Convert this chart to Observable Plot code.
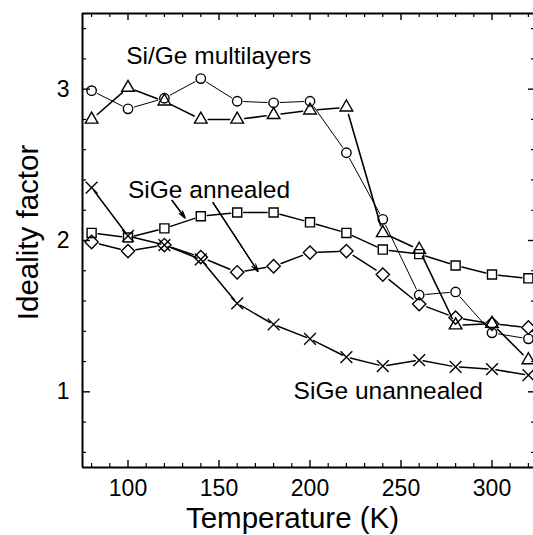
<!DOCTYPE html>
<html>
<head>
<meta charset="utf-8">
<script src="https://cdn.jsdelivr.net/npm/d3@7"></script>
<script src="https://cdn.jsdelivr.net/npm/@observablehq/plot@0.6"></script>
<style>
  html, body { margin: 0; padding: 0; background: #fff; }
  svg { display: block; }
</style>
</head>
<body>
<div id="chart"></div>
<script>
// ---- data ----
const temps = [80, 100, 120, 140, 160, 180, 200, 220, 240, 260, 280, 300, 320];
const multilayerCircle   = [2.99, 2.87, 2.94, 3.07, 2.92, 2.91, 2.92, 2.58, 2.14, 1.64, 1.66, 1.39, 1.35];
const multilayerTriangle = [2.80, 3.01, 2.92, 2.80, 2.80, 2.83, 2.86, 2.88, 2.05, 1.94, 1.44, 1.45, 1.21];
const annealedSquare     = [2.05, 2.02, 2.08, 2.16, 2.185, 2.185, 2.12, 2.05, 1.94, 1.91, 1.835, 1.775, 1.75];
const annealedDiamond    = [1.99, 1.93, 1.97, 1.89, 1.79, 1.83, 1.92, 1.93, 1.775, 1.58, 1.49, 1.45, 1.425];
const unannealedCross    = [2.35, 2.03, 1.97, 1.875, 1.585, 1.445, 1.35, 1.23, 1.17, 1.21, 1.165, 1.15, 1.11];

const xMajorTicks = [100, 150, 200, 250, 300];
const xMinorTicks = [80, 90, 110, 120, 130, 140, 160, 170, 180, 190, 210, 220, 230, 240, 260, 270, 280, 290, 310, 320];
const yMajorTicks = [1, 2, 3];
const yMinorTicks = [0.6, 0.8, 1.2, 1.4, 1.6, 1.8, 2.2, 2.4, 2.6, 2.8, 3.2, 3.4];

const labelTexts = ["Si/Ge multilayers", "SiGe annealed", "SiGe unannealed"];
const labelX = [99, 100, 191];
const labelY = [3.167, 2.284, 0.952];

const arrowX1 = [124.2, 146.7];
const arrowY1 = [2.265, 2.25];
const arrowX2 = [131.3, 171.4];
const arrowY2 = [2.15, 1.795];

const xTitle = "Temperature (K)";
const yTitle = "Ideality factor";

// ---- build tables ----
const pts = vals => temps.map((t, i) => ({x: t, y: vals[i]}));
const segs = vals => temps.slice(1).map((t, i) => ({x1: temps[i], y1: vals[i], x2: t, y2: vals[i + 1]}));
const labels = labelTexts.map((t, i) => ({text: t, x: labelX[i], y: labelY[i]}));
const arrows = arrowX1.map((_, i) => ({x1: arrowX1[i], y1: arrowY1[i], x2: arrowX2[i], y2: arrowY2[i]}));

const series = [
  {vals: multilayerCircle,   symbol: "circle",   r: 4.7, inset: 6.5, lw: 1.0},
  {vals: multilayerTriangle, symbol: "triangle", r: 4.7, inset: 7.5, lw: 1.6},
  {vals: annealedSquare,     symbol: "square",   r: 5.1, inset: 6.5, lw: 1.5},
  {vals: annealedDiamond,    symbol: "diamond2", r: 6.0, inset: 8,   lw: 1.5},
  {vals: unannealedCross,    symbol: "times",    r: 5.4, inset: 4,   lw: 1.5}
];

const W = 533, H = 535, mL = 82, mR = 0, mT = 13, mB = 68;
const fw = W - mL - mR, fh = H - mT - mB;

const marks = [];
for (const s of series) {
  marks.push(Plot.arrow(segs(s.vals), {
    x1: "x1", y1: "y1", x2: "x2", y2: "y2",
    headLength: 0, insetStart: s.inset, insetEnd: s.inset,
    stroke: "black", strokeWidth: s.lw
  }));
  marks.push(Plot.dot(pts(s.vals), {
    x: "x", y: "y", symbol: s.symbol, r: s.r,
    stroke: "black", fill: "none", strokeWidth: 1.4
  }));
}

// annotation arrows (stacked heads to look filled)
for (const hl of [11, 8, 5]) {
  marks.push(Plot.arrow(arrows, {
    x1: "x1", y1: "y1", x2: "x2", y2: "y2",
    headLength: hl, headAngle: 32, stroke: "black", strokeWidth: 1.1
  }));
}

marks.push(Plot.text(labels, {
  x: "x", y: "y", text: "text", textAnchor: "start", lineAnchor: "bottom",
  fontSize: 24.5, fill: "black"
}));

// frame lines
marks.push(Plot.ruleX([75], {strokeWidth: 2, stroke: "black"}));
marks.push(Plot.ruleY([0.5, 3.5], {strokeWidth: 2, stroke: "black"}));

// inward ticks
marks.push(Plot.tickX(xMajorTicks, {x: d => d, insetTop: fh - 7, strokeWidth: 1.4}));
marks.push(Plot.tickX(xMinorTicks, {x: d => d, insetTop: fh - 4, strokeWidth: 1.2}));
marks.push(Plot.tickX(xMajorTicks, {x: d => d, insetBottom: fh - 7, strokeWidth: 1.4}));
marks.push(Plot.tickX(xMinorTicks, {x: d => d, insetBottom: fh - 4, strokeWidth: 1.2}));
marks.push(Plot.tickY(yMajorTicks, {y: d => d, insetRight: fw - 8, strokeWidth: 1.4}));
marks.push(Plot.tickY(yMinorTicks, {y: d => d, insetRight: fw - 4, strokeWidth: 1.2}));
marks.push(Plot.tickY(yMajorTicks, {y: d => d, insetLeft: fw - 5, strokeWidth: 1.4}));
marks.push(Plot.tickY(yMinorTicks, {y: d => d, insetLeft: fw - 2, strokeWidth: 1.2}));

// tick labels
marks.push(Plot.axisX(xMajorTicks, {tickSize: 0, tickPadding: 12, fontSize: 23, label: null, tickFormat: d => String(d)}));
marks.push(Plot.axisY(yMajorTicks, {tickSize: 0, tickPadding: 13, fontSize: 23, label: null, tickFormat: d => String(d)}));

// axis titles
marks.push(Plot.text([xTitle], {text: d => d, frameAnchor: "bottom", textAnchor: "middle", dx: -15.5, dy: 60, lineAnchor: "bottom", fontSize: 29.5, fill: "black"}));
marks.push(Plot.text([yTitle], {text: d => d, frameAnchor: "left", textAnchor: "middle", rotate: -90, dx: -45, dy: -8, lineAnchor: "bottom", fontSize: 29.5, fill: "black"}));

const chart = Plot.plot({
  width: W, height: H,
  marginLeft: mL, marginRight: mR, marginTop: mT, marginBottom: mB,
  style: {fontFamily: "'Liberation Sans', Arial, sans-serif", background: "white", color: "black", overflow: "hidden"},
  x: {domain: [75, 325], range: [mL, 537], axis: null},
  y: {domain: [0.5, 3.5], axis: null},
  marks
});
document.getElementById("chart").appendChild(chart);
</script>
</body>
</html>
